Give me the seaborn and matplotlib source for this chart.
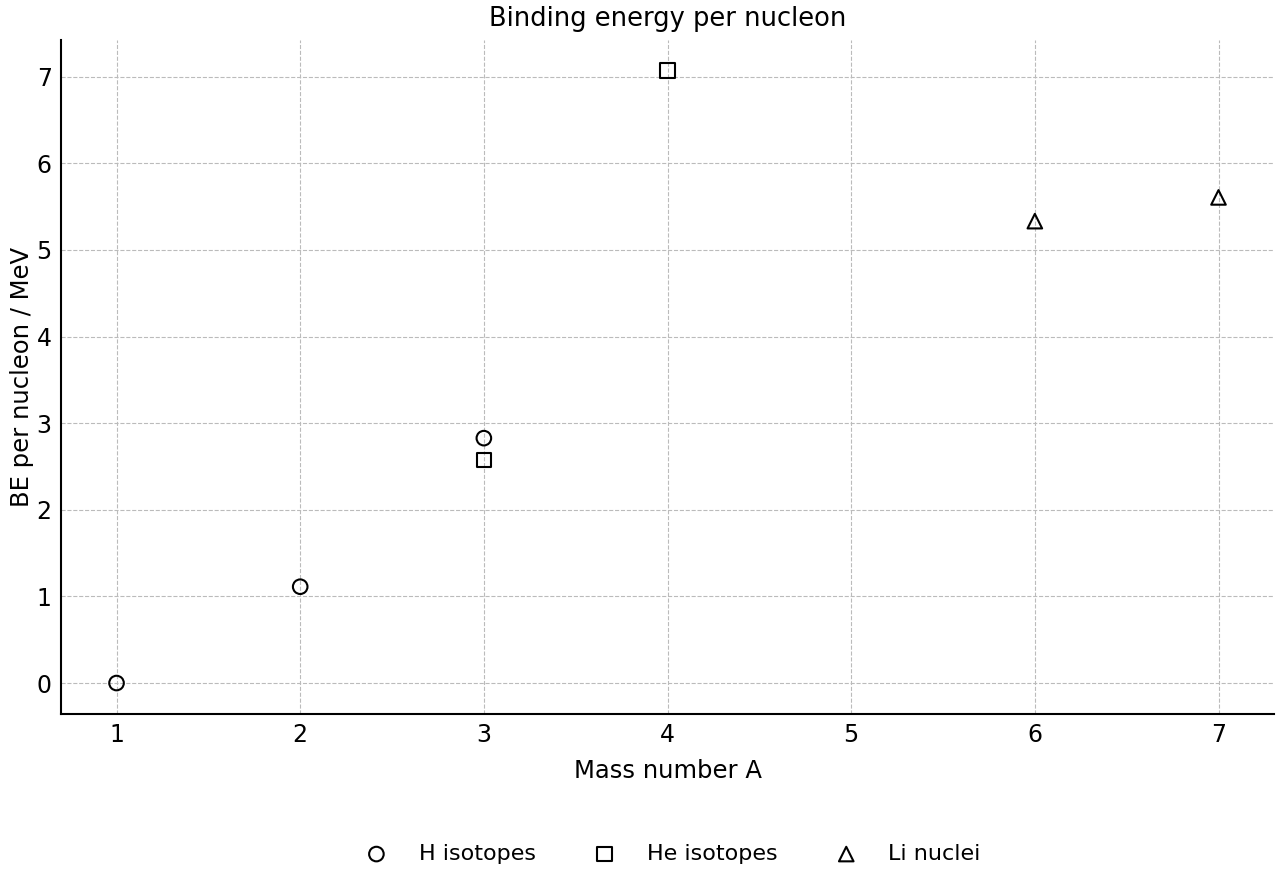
import matplotlib
matplotlib.use("Agg")
import matplotlib.pyplot as plt
import pandas as pd
import seaborn as sns

# binding energy per nucleon (MeV)
h_mass = [1, 2, 3]
h_be = [0.0, 1.112, 2.827]
he_mass = [3, 4]
he_be = [2.573, 7.074]
li_mass = [6, 7]
li_be = [5.332, 5.606]

groups = ["H isotopes", "He isotopes", "Li nuclei"]
markers = {"H isotopes": "o", "He isotopes": "s", "Li nuclei": "^"}

df = pd.concat([
    pd.DataFrame({"A": h_mass, "BE": h_be, "group": groups[0]}),
    pd.DataFrame({"A": he_mass, "BE": he_be, "group": groups[1]}),
    pd.DataFrame({"A": li_mass, "BE": li_be, "group": groups[2]}),
], ignore_index=True)

sns.set_style("white")
plt.rcParams["font.family"] = ["DejaVu Sans"]
plt.rcParams["font.size"] = 17.5
plt.rcParams["text.color"] = "black"
plt.rcParams["axes.labelcolor"] = "black"

fig, ax = plt.subplots(figsize=(12.8, 8.8), dpi=100)
fig.subplots_adjust(left=0.048, right=0.995, top=0.955, bottom=0.189)

for g in groups:
    sub = df[df["group"] == g]
    sns.scatterplot(data=sub, x="A", y="BE", marker=markers[g], s=110,
                    facecolor="none", edgecolor="black", linewidth=1.5,
                    label=g, ax=ax, zorder=3)

ax.set_title("Binding energy per nucleon", fontsize=18.5, color="black", pad=10)
ax.set_xlabel("Mass number A", fontsize=17.5, labelpad=8)
ax.set_ylabel("BE per nucleon / MeV", fontsize=17.5, labelpad=2)
ax.set_xticks(range(1, 8))
ax.set_yticks(range(0, 8))
ax.tick_params(direction="in", length=6, width=1.5, labelsize=17, colors="black", pad=7)
ax.grid(True, linestyle="--", color="#bbbbbb", linewidth=0.8)
ax.set_axisbelow(True)
for side in ["top", "right"]:
    ax.spines[side].set_visible(False)
for side in ["left", "bottom"]:
    ax.spines[side].set_color("black")
    ax.spines[side].set_linewidth(1.5)

ax.legend(loc="center", bbox_to_anchor=(0.5, -0.208), ncol=3, frameon=False,
          fontsize=16, handletextpad=0.9, columnspacing=2.1)

fig.savefig("out.png", dpi=100)
